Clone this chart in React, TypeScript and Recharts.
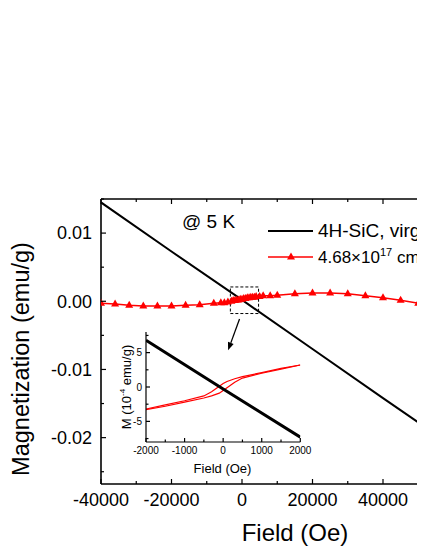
import React from 'react';
import { LineChart, Line, XAxis, YAxis, ReferenceArea, ReferenceLine } from 'recharts';

// main panel: 4H-SiC virgin (black) and irradiated (red triangles)
const FIELD_VIRGIN = [-40000, -20000, 0, 20000, 40000, 60000];
const M_VIRGIN = [0.0145, 0.0073, 0.0002, -0.007, -0.0142, -0.0213];

const FIELD_IRR = [
  -40000, -36000, -32000, -28000, -24000, -20000, -16000, -12000, -8000, -6000, -5000, -4000,
  -3000, -2500, -2000, -1500, -1000, -500, 0, 500, 1000, 1500, 2000, 2500, 3000, 3500, 4000,
  5000, 6000, 8000, 10000, 15000, 20000, 25000, 30000, 35000, 40000, 45000, 50000, 55000,
];
const M_IRR = [
  -0.0003, -0.0004, -0.0006, -0.0007, -0.0007, -0.0007, -0.0006, -0.0005, -0.0003, -0.0002,
  -0.0002, -0.0001, 0, 0.0001, 0.0001, 0.0002, 0.0002, 0.0003, 0.0003, 0.0004, 0.0004, 0.0005,
  0.0005, 0.0006, 0.0006, 0.0006, 0.0007, 0.0007, 0.0008, 0.0008, 0.0009, 0.0011, 0.0012, 0.0012,
  0.0011, 0.0008, 0.0005, 0.00015, -0.0003, -0.0008,
];

const X_TICKS = [-40000, -30000, -20000, -10000, 0, 10000, 20000, 30000, 40000, 50000];
const Y_TICKS = [-0.025, -0.02, -0.015, -0.01, -0.005, 0, 0.005, 0.01, 0.015];

// inset: low-field loop, M in 1e-4 emu/g
const INSET_FIELD_VIRGIN = [-2000, 0, 2000];
const INSET_M_VIRGIN = [6.8, -0.3, -7.3];

const INSET_FIELD_DOWN = [2000, 1500, 1000, 500, 300, 100, 0, -100, -200, -300, -500, -1000, -1500, -2000];
const INSET_M_DOWN = [3.2, 2.7, 2.1, 1.5, 1.2, 0.8, 0.5, 0.1, -0.3, -0.7, -1.3, -2.0, -2.6, -3.2];
const INSET_FIELD_UP = [-2000, -1500, -1000, -500, -300, -100, 0, 100, 200, 300, 500, 1000, 1500, 2000];
const INSET_M_UP = [-3.3, -2.8, -2.2, -1.6, -1.3, -0.9, -0.5, -0.1, 0.3, 0.7, 1.3, 2.0, 2.6, 3.2];

const INSET_X_TICKS = [-2000, -1500, -1000, -500, 0, 500, 1000, 1500, 2000];
const INSET_Y_TICKS = [-7.5, -5, -2.5, 0, 2.5, 5, 7.5];

const zip = (xs: number[], ys: number[]) => xs.map((x, i) => ({ x, m: ys[i] }));

const virginData = zip(FIELD_VIRGIN, M_VIRGIN);
const irrData = zip(FIELD_IRR, M_IRR);
const insetVirgin = zip(INSET_FIELD_VIRGIN, INSET_M_VIRGIN);
const insetDown = zip(INSET_FIELD_DOWN, INSET_M_DOWN);
const insetUp = zip(INSET_FIELD_UP, INSET_M_UP);

const FONT = '"Liberation Sans", Arial, sans-serif';
const RED = '#ff0000';

const isMult = (v: number, step: number) => Math.abs(v / step - Math.round(v / step)) < 1e-6;

const Triangle = (props: any) => {
  const { cx, cy, index } = props;
  if (cx == null || cy == null) return <g key={index} />;
  return (
    <polygon
      key={index}
      points={`${cx},${cy - 4.5} ${cx - 4},${cy + 2.5} ${cx + 4},${cy + 2.5}`}
      fill={RED}
      stroke="none"
    />
  );
};

const makeBottomTick = (step: number, fs: number, dy: number, major: number, minor: number, fmt: (v: number) => string) =>
  (props: any) => {
    const { x, y, payload } = props;
    const v = payload.value;
    const isMajor = isMult(v, step);
    return (
      <g>
        <line x1={x} x2={x} y1={y} y2={y - (isMajor ? major : minor)} stroke="#000" strokeWidth={1.2} />
        {isMajor && (
          <text x={x} y={y + dy} textAnchor="middle" fontSize={fs} fontFamily={FONT} fill="#000">
            {fmt(v)}
          </text>
        )}
      </g>
    );
  };

const makeLeftTick = (step: number, fs: number, dx: number, major: number, minor: number, fmt: (v: number) => string) =>
  (props: any) => {
    const { x, y, payload } = props;
    const v = payload.value;
    const isMajor = isMult(v, step);
    return (
      <g>
        <line x1={x} x2={x + (isMajor ? major : minor)} y1={y} y2={y} stroke="#000" strokeWidth={1.2} />
        {isMajor && (
          <text x={x - dx} y={y} dy="0.35em" textAnchor="end" fontSize={fs} fontFamily={FONT} fill="#000">
            {fmt(v)}
          </text>
        )}
      </g>
    );
  };

const TopTick = (props: any) => {
  const { x, y, payload } = props;
  const len = isMult(payload.value, 20000) ? 5 : 3;
  return <line x1={x} x2={x} y1={y} y2={y + len} stroke="#000" strokeWidth={1.2} />;
};

const Arrow = (props: any) => {
  const { x1, y1, x2, y2 } = props;
  const ang = Math.atan2(y2 - y1, x2 - x1);
  const L = 8;
  const W = 3;
  const bx = x2 - L * Math.cos(ang);
  const by = y2 - L * Math.sin(ang);
  const px = -Math.sin(ang) * W;
  const py = Math.cos(ang) * W;
  return (
    <g>
      <line x1={x1} y1={y1} x2={bx} y2={by} stroke="#000" strokeWidth={1.3} />
      <polygon points={`${x2},${y2} ${bx + px},${by + py} ${bx - px},${by - py}`} fill="#000" />
    </g>
  );
};

const mainBottomTick = makeBottomTick(20000, 18, 22, 5, 3, (v) => String(v));
const mainLeftTick = makeLeftTick(0.01, 18, 9, 5, 3, (v) => v.toFixed(2));
const insetBottomTick = makeBottomTick(1000, 10, 11.5, 4, 2.5, (v) => String(v));
const insetLeftTick = makeLeftTick(5, 10, 4, 4, 2.5, (v) => String(v));

const label = (left: number, top: number, fs: number, rotate = false): React.CSSProperties => ({
  position: 'absolute',
  left,
  top,
  transform: `translate(-50%, -50%)${rotate ? ' rotate(-90deg)' : ''}`,
  whiteSpace: 'nowrap',
  fontFamily: FONT,
  fontSize: fs,
  color: '#000',
  lineHeight: 1,
});

export default function App() {
  return (
    <div style={{ position: 'relative', width: 417, height: 542, overflow: 'hidden', background: '#fff' }}>
      <LineChart width={460} height={542} margin={{ top: 181, right: 14.5, bottom: 26, left: 33 }}>
        <XAxis
          xAxisId="main"
          dataKey="x"
          type="number"
          domain={[-40000, 60000]}
          ticks={X_TICKS}
          allowDataOverflow
          height={40}
          tickSize={0}
          tickMargin={0}
          tickLine={false}
          axisLine={{ stroke: '#000', strokeWidth: 1.6 }}
          tick={mainBottomTick}
          interval={0}
        />
        <XAxis
          xAxisId="top"
          orientation="top"
          dataKey="x"
          type="number"
          domain={[-40000, 60000]}
          ticks={X_TICKS}
          allowDataOverflow
          height={10}
          tickSize={0}
          tickMargin={0}
          tickLine={false}
          axisLine={{ stroke: '#000', strokeWidth: 1.6 }}
          tick={TopTick}
          interval={0}
        />
        <YAxis
          type="number"
          domain={[-0.0268, 0.015]}
          ticks={Y_TICKS}
          allowDataOverflow
          width={60}
          tickSize={0}
          tickMargin={0}
          tickLine={false}
          axisLine={{ stroke: '#000', strokeWidth: 1.6 }}
          tick={mainLeftTick}
          interval={0}
        />
        <ReferenceArea
          xAxisId="main"
          x1={-3300}
          x2={4700}
          y1={-0.0018}
          y2={0.0021}
          fill="none"
          stroke="#000"
          strokeWidth={1}
          strokeDasharray="3 2"
        />
        <ReferenceLine
          xAxisId="main"
          segment={[{ x: -700, y: -0.0026 }, { x: -3950, y: -0.0072 }]}
          shape={Arrow}
        />
        <Line
          xAxisId="main"
          data={irrData}
          dataKey="m"
          stroke={RED}
          strokeWidth={1.5}
          dot={Triangle}
          isAnimationActive={false}
        />
        <Line
          xAxisId="main"
          data={virginData}
          dataKey="m"
          stroke="#000"
          strokeWidth={2}
          dot={false}
          isAnimationActive={false}
        />
      </LineChart>

      <div style={{ position: 'absolute', left: 97.7, top: 314.3 }}>
        <LineChart width={210} height={160} margin={{ top: 10, right: 15.7, bottom: 20, left: 10 }}>
          <XAxis
            dataKey="x"
            type="number"
            domain={[-2000, 2000]}
            ticks={INSET_X_TICKS}
            allowDataOverflow
            height={20}
            tickSize={0}
            tickMargin={0}
            tickLine={false}
            axisLine={{ stroke: '#000', strokeWidth: 1.2 }}
            tick={insetBottomTick}
            interval={0}
          />
          <YAxis
            type="number"
            domain={[-8, 8]}
            ticks={INSET_Y_TICKS}
            allowDataOverflow
            width={30}
            tickSize={0}
            tickMargin={0}
            tickLine={false}
            axisLine={{ stroke: '#000', strokeWidth: 1.2 }}
            tick={insetLeftTick}
            interval={0}
          />
          <Line data={insetDown} dataKey="m" stroke={RED} strokeWidth={1.2} dot={false} isAnimationActive={false} />
          <Line data={insetUp} dataKey="m" stroke={RED} strokeWidth={1.2} dot={false} isAnimationActive={false} />
          <Line data={insetVirgin} dataKey="m" stroke="#000" strokeWidth={3} dot={false} isAnimationActive={false} />
        </LineChart>
      </div>

      <div style={label(214.5, 460, 13)}>Field (Oe)</div>
      <div style={label(118, 379, 13, true)}>
        M (10<sup style={{ fontSize: 8 }}>-4</sup> emu/g)
      </div>

      <div style={label(287, 525, 24)}>Field (Oe)</div>
      <div style={label(14, 351, 23.5, true)}>Magnetization (emu/g)</div>
      <div style={{ ...label(0, 0, 19), transform: 'translateY(-50%)', left: 174, top: 213 }}>@ 5 K</div>

      <div style={{ position: 'absolute', left: 260, top: 210, whiteSpace: 'nowrap', fontFamily: FONT }}>
        <div style={{ display: 'flex', alignItems: 'center', height: 26, fontSize: 19 }}>
          <svg width={50} height={10}>
            <line x1={0} x2={45} y1={5} y2={5} stroke="#000" strokeWidth={2} />
          </svg>
          <span>4H-SiC, virgin</span>
        </div>
        <div style={{ display: 'flex', alignItems: 'center', height: 26, fontSize: 17 }}>
          <svg width={50} height={12}>
            <line x1={0} x2={45} y1={6} y2={6} stroke={RED} strokeWidth={1.5} />
            <polygon points="23,1.5 19,8.5 27,8.5" fill={RED} />
          </svg>
          <span>
            4.68×10<sup style={{ fontSize: 11 }}>17</sup> cm<sup style={{ fontSize: 11 }}>-2</sup>
          </span>
        </div>
      </div>
    </div>
  );
}
